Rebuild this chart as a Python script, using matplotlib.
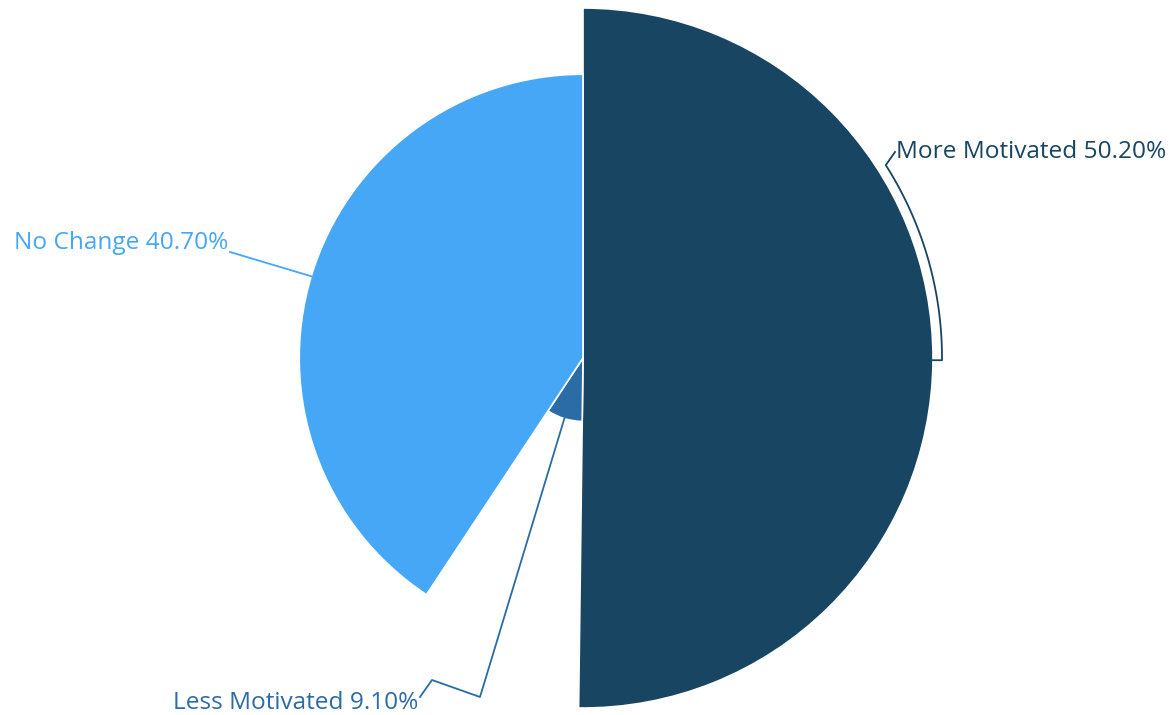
import numpy as np
import matplotlib
matplotlib.use('Agg')
from matplotlib import pyplot as plt
from matplotlib.patches import Wedge

labels = ['More Motivated', 'Less Motivated', 'No Change']
values = [50.2, 9.1, 40.7]
colors = ['#174562', '#2b6ba6', '#45a7f5']


def main():
    fig = plt.figure(figsize=(11.73, 7.15), dpi=100)
    ax = fig.add_axes([0, 0, 1, 1])
    ax.set_xlim(0, 1173)
    ax.set_ylim(0, 715)
    ax.set_aspect('equal')
    ax.axis('off')

    cx, cy = 583, 357
    rmax = 350.0
    total = float(sum(values))

    # rose layout: radius scales with value, clockwise from 12 o'clock
    start = 0.0
    mids = []
    radii = []
    for v, c in zip(values, colors):
        span = v / total * 360.0
        r = v / max(values) * rmax
        w = Wedge((cx, cy), r, 90 - (start + span), 90 - start,
                  facecolor=c, edgecolor='white', linewidth=1.2)
        ax.add_patch(w)
        mids.append(start + span / 2)
        radii.append(r)
        start += span

    font = dict(family=['Open Sans', 'DejaVu Sans'], fontsize=17.6)

    # More Motivated: leader follows the rim up to the label
    r0 = radii[0]
    a_mid = np.deg2rad(90 - mids[0])
    rl = r0 + 9
    ang = np.linspace(a_mid, np.deg2rad(32.5), 60)
    xs = [cx + r0 * np.cos(a_mid)] + list(cx + rl * np.cos(ang)) + [895]
    ys = [cy + r0 * np.sin(a_mid)] + list(cy + rl * np.sin(ang)) + [715 - 152]
    ax.plot(xs, ys, color=colors[0], lw=1.3)
    ax.text(896, 715 - 152, '%s %.2f%%' % (labels[0], values[0]),
            color=colors[0], ha='left', va='center', **font)

    # Less Motivated
    a1 = np.deg2rad(90 - mids[1])
    p0 = (cx + radii[1] * np.cos(a1), cy + radii[1] * np.sin(a1))
    ax.plot([p0[0], 480, 432, 420], [p0[1], 715 - 697, 715 - 680, 715 - 697],
            color=colors[1], lw=1.3)
    ax.text(418, 715 - 703, '%s %.2f%%' % (labels[1], values[1]),
            color=colors[1], ha='right', va='center', **font)

    # No Change
    a2 = np.deg2rad(90 - mids[2])
    p0 = (cx + radii[2] * np.cos(a2), cy + radii[2] * np.sin(a2))
    ax.plot([p0[0], 230], [p0[1], 715 - 252], color=colors[2], lw=1.3)
    ax.text(228, 715 - 243, '%s %.2f%%' % (labels[2], values[2]),
            color=colors[2], ha='right', va='center', **font)

    fig.savefig('out.png', dpi=100, facecolor='white')
    plt.close(fig)


if __name__ == '__main__':
    main()
